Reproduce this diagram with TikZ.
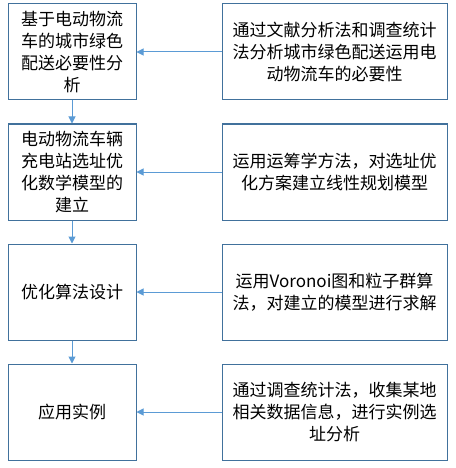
\documentclass[tikz,border=0pt]{standalone}
\usepackage{fontspec}
\newfontfamily\cjk{Noto Sans CJK SC}
\usetikzlibrary{arrows.meta, positioning}
\definecolor{boxline}{HTML}{41719C}
\definecolor{arrowblue}{HTML}{5B9BD5}

\begin{document}
\begin{tikzpicture}[
  stage/.style={rectangle,draw=boxline,line width=1pt,align=center,font=\cjk\fontsize{17}{21.7}\selectfont,inner sep=2pt,minimum width=128pt,minimum height=96pt},
  desc/.style={rectangle,draw=boxline,line width=1pt,align=center,font=\cjk\fontsize{17}{21.7}\selectfont,inner sep=2pt,minimum width=225pt,minimum height=96pt},
  rel/.style={-{Triangle[length=7pt,width=7pt]},line width=1pt,arrowblue}
]
  \useasboundingbox (0,0) rectangle (455pt,-468pt);
  \node[stage](nec) at (72pt,-52pt) {
    基于电动物流\\
    车的城市绿色\\
    配送必要性分\\
    析
  };
  \node[stage](mod) at (72pt,-172pt) {
    电动物流车辆\\
    充电站选址优\\
    化数学模型的\\
    建立
  };
  \node[stage](alg) at (72pt,-292pt) {优化算法设计};
  \node[stage](app) at (72pt,-412pt) {应用实例};
  \node[desc](necd) at (334.5pt,-52pt) {
    通过文献分析法和调查统计\\
    法分析城市绿色配送运用电\\
    动物流车的必要性
  };
  \node[desc](modd) at (334.5pt,-172pt) {
    运用运筹学方法，对选址优\\
    化方案建立线性规划模型
  };
  \node[desc](algd) at (334.5pt,-292pt) {
    运用Voronoi图和粒子群算\\
    法，对建立的模型进行求解
  };
  \node[desc](appd) at (334.5pt,-412pt) {
    通过调查统计法，收集某地\\
    相关数据信息，进行实例选\\
    址分析
  };
  \draw[rel](nec.south)--(mod.north);
  \draw[rel](mod.south)--(alg.north);
  \draw[rel](alg.south)--(app.north);
  \draw[rel](necd.west)--(nec.east);
  \draw[rel](modd.west)--(mod.east);
  \draw[rel](algd.west)--(alg.east);
  \draw[rel](appd.west)--(app.east);
\end{tikzpicture}
\end{document}
